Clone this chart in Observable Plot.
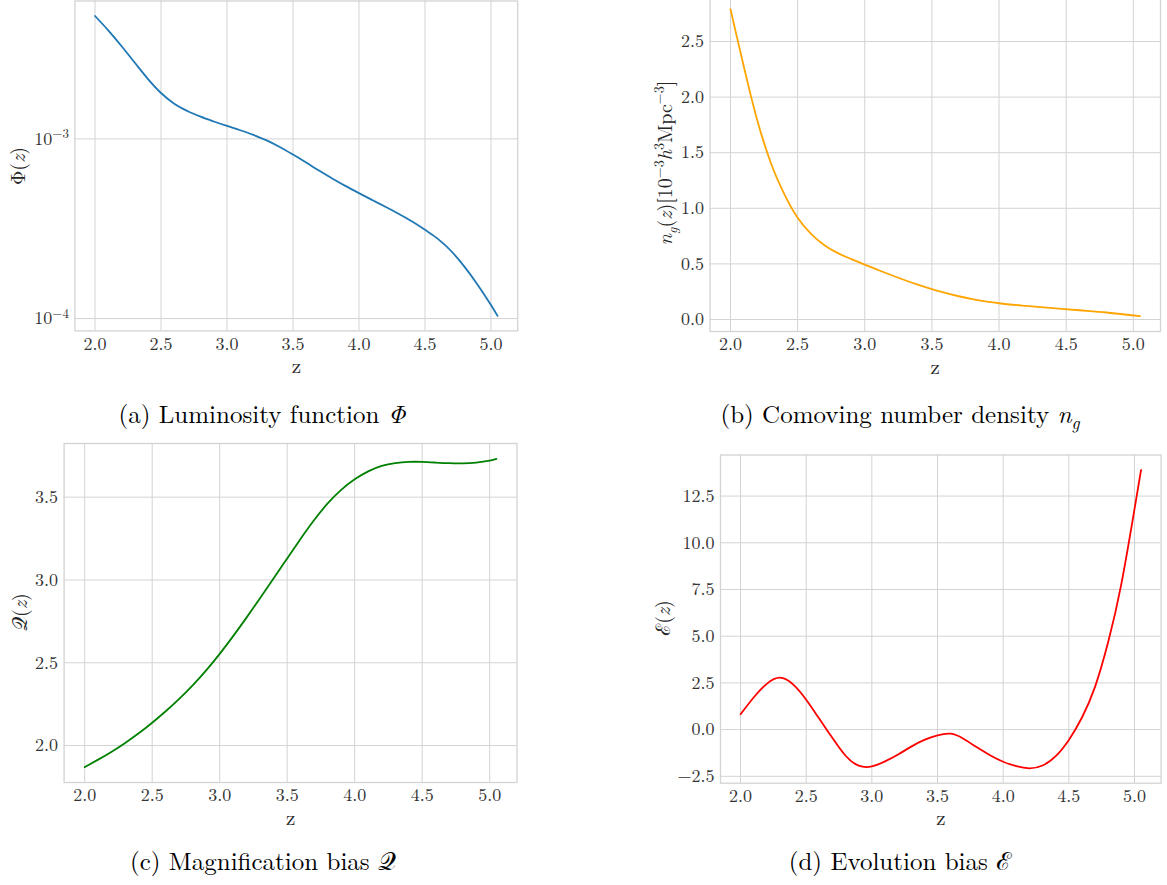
<!DOCTYPE html>
<html>
<head>
<meta charset="utf-8">
<script src="https://cdn.jsdelivr.net/npm/d3@7"></script>
<script src="https://cdn.jsdelivr.net/npm/@observablehq/plot@0.6"></script>
<style>
  html, body { margin: 0; padding: 0; background: #fff; }
  #fig { position: relative; width: 1167px; height: 885px; overflow: hidden; background: #fff;
         font-family: "Latin Modern Roman", "CMU Serif", "DejaVu Serif", "Liberation Serif", "Noto Serif", "Times New Roman", Times, serif; }
  .panel { position: absolute; }
  .ylab { position: absolute; white-space: nowrap; transform: translate(-50%, -50%) rotate(-90deg); font-size: 20px; color: #262626; line-height: 1; }
  .cap { position: absolute; white-space: nowrap; transform: translateX(-50%); font-size: 25px; line-height: 25px; color: #000; }
  sub, sup { font-size: 70%; line-height: 0; }
</style>
</head>
<body>
<div id="fig"></div>
<script>
// ---------- data ----------
const zA = [2.0,2.1,2.2,2.3,2.4,2.5,2.6,2.7,2.8,2.9,3.0,3.1,3.2,3.3,3.4,3.5,3.6,3.7,3.8,3.9,4.0,4.1,4.2,4.3,4.4,4.5,4.6,4.7,4.8,4.9,5.0,5.05];
const phi = [4.83e-3,4.02e-3,3.29e-3,2.66e-3,2.16e-3,1.80e-3,1.57e-3,1.43e-3,1.33e-3,1.25e-3,1.18e-3,1.117e-3,1.052e-3,0.982e-3,0.902e-3,0.818e-3,0.738e-3,0.664e-3,0.600e-3,0.546e-3,0.499e-3,0.457e-3,0.419e-3,0.383e-3,0.348e-3,0.312e-3,0.277e-3,0.237e-3,0.194e-3,0.154e-3,0.119e-3,0.1035e-3];

const zB = [2.0,2.05,2.1,2.15,2.2,2.3,2.4,2.5,2.6,2.7,2.8,2.9,3.0,3.1,3.2,3.3,3.4,3.5,3.6,3.7,3.8,3.9,4.0,4.2,4.4,4.6,4.8,5.05];
const ng = [2.79,2.53,2.27,2.02,1.79,1.41,1.13,0.915,0.77,0.668,0.597,0.543,0.493,0.445,0.398,0.353,0.311,0.273,0.239,0.209,0.183,0.162,0.146,0.122,0.102,0.083,0.063,0.03];

const zC = zA;
const magQ = [1.870,1.915,1.963,2.016,2.074,2.138,2.207,2.282,2.364,2.454,2.554,2.661,2.774,2.891,3.010,3.130,3.249,3.362,3.462,3.544,3.608,3.656,3.689,3.706,3.713,3.713,3.709,3.705,3.704,3.709,3.721,3.731];

const zD = zA;
const evoE = [0.82,1.72,2.45,2.78,2.42,1.6,0.58,-0.45,-1.4,-1.93,-1.97,-1.70,-1.33,-0.91,-0.55,-0.31,-0.22,-0.50,-0.95,-1.37,-1.72,-1.96,-2.07,-1.92,-1.42,-0.55,0.65,2.30,4.70,7.80,11.8,13.9];

const xTicks = [2.0,2.5,3.0,3.5,4.0,4.5,5.0];
const yTicksA = [1e-4, 1e-3];
const yTickExpA = ["\u22124", "\u22123"];
const yTicksB = [0.0,0.5,1.0,1.5,2.0,2.5];
const yTicksC = [2.0,2.5,3.0,3.5];
const yTicksD = [-2.5,0.0,2.5,5.0,7.5,10.0,12.5];

const colors = {a: "#1f77b4", b: "orange", c: "green", d: "red"};

// ---------- helpers ----------
const FONT = '"Latin Modern Roman", "CMU Serif", "DejaVu Serif", "Liberation Serif", "Noto Serif", "Times New Roman", Times, serif';
const fig = document.getElementById("fig");
function pad(ext) { const s = ext[1] - ext[0]; return [ext[0] - 0.05 * s, ext[1] + 0.05 * s]; }
function padLog(ext) {
  const l0 = Math.log10(ext[0]), l1 = Math.log10(ext[1]), s = l1 - l0;
  return [Math.pow(10, l0 - 0.05 * s), Math.pow(10, l1 + 0.05 * s)];
}
const gridStyle = {stroke: "#d3d3d3", strokeOpacity: 1, strokeWidth: 1};

function panel(cfg) {
  const data = cfg.x.map((x, i) => ({x, y: cfg.y[i]}));
  const svg = Plot.plot({
    width: cfg.w, height: cfg.h,
    marginLeft: cfg.ml, marginRight: cfg.mr, marginTop: cfg.mt, marginBottom: cfg.mb,
    style: {fontFamily: FONT, fontSize: "18px", color: "#333", background: "transparent", overflow: "visible"},
    x: {domain: pad(d3.extent(cfg.x)), axis: null},
    y: {type: cfg.yType || "linear", domain: cfg.yType === "log" ? padLog(d3.extent(cfg.y)) : pad(d3.extent(cfg.y)), axis: null},
    marks: [
      Plot.gridX(xTicks, gridStyle),
      Plot.gridY(cfg.yTicks, gridStyle),
      Plot.frame({stroke: "#d3d3d3", strokeWidth: 1.3}),
      Plot.axisX(xTicks, {tickSize: 0, tickPadding: 6, tickFormat: d3.format(".1f"), label: null}),
      Plot.axisY(cfg.yTicks, {tickSize: 0, tickPadding: 6, tickFormat: cfg.yFormat, label: null}),
      Plot.text([0], {frameAnchor: "bottom", text: () => "z", dy: 42, fontSize: 21, fill: "#262626"}),
      Plot.line(data, {x: "x", y: "y", stroke: cfg.color, strokeWidth: 1.8, curve: cfg.curve || "natural"})
    ]
  });
  // render "10^k" tick labels with a raised exponent
  svg.querySelectorAll("text").forEach(t => {
    const s = t.textContent;
    if (s.startsWith("10^")) {
      t.textContent = "10";
      const sp = document.createElementNS("http://www.w3.org/2000/svg", "tspan");
      sp.setAttribute("dy", "-0.5em");
      sp.setAttribute("font-size", "0.72em");
      sp.textContent = s.slice(3);
      t.appendChild(sp);
    }
  });
  svg.classList.add("panel");
  svg.style.left = cfg.left + "px";
  svg.style.top = cfg.top + "px";
  fig.appendChild(svg);
}

function html(cls, x, y, content) {
  const d = document.createElement("div");
  d.className = cls;
  d.style.left = x + "px";
  d.style.top = y + "px";
  d.innerHTML = content;
  fig.appendChild(d);
}

// (a)
panel({x: zA, y: phi, color: colors.a, yType: "log", yTicks: yTicksA, curve: "monotone-x",
  yFormat: d => "10^" + yTickExpA[yTicksA.indexOf(d)],
  left: 0, top: 0, w: 540, h: 390, ml: 74.4, mr: 22.8, mt: 0.5, mb: 59.6});
// (b)
panel({x: zB, y: ng, color: colors.b, yTicks: yTicksB, yFormat: d3.format(".1f"), curve: "monotone-x",
  left: 580, top: -10, w: 587, h: 400, ml: 129.5, mr: 7, mt: 3.4, mb: 59});
// (c)
panel({x: zC, y: magQ, color: colors.c, yTicks: yTicksC, yFormat: d3.format(".1f"),
  left: 0, top: 430, w: 540, h: 400, ml: 63.6, mr: 23.5, mt: 13, mb: 48});
// (d)
panel({x: zD, y: evoE, color: colors.d, yTicks: yTicksD, yFormat: d => d3.format(".1f")(d).replace("-", "\u2212"),
  left: 580, top: 430, w: 587, h: 400, ml: 140, mr: 6.4, mt: 24.5, mb: 47.3});

// y-axis labels
html("ylab", 17, 166, "\u03A6(<i>z</i>)");
html("ylab", 664, 163, "<i>n</i><sub><i>g</i></sub>(<i>z</i>)[10<sup>\u22123</sup><i>h</i><sup>3</sup>Mpc<sup>\u22123</sup>]");
html("ylab", 19, 612, "\uD835\uDCAC(<i>z</i>)");
html("ylab", 662, 618, "\u2130(<i>z</i>)");

// captions
html("cap", 262, 400, "(a) Luminosity function <i>\u03A6</i>");
html("cap", 900, 400, "(b) Comoving number density <i>n</i><sub><i>g</i></sub>");
html("cap", 263, 847, "(c) Magnification bias \uD835\uDCAC");
html("cap", 900, 847, "(d) Evolution bias \u2130");
</script>
</body>
</html>
